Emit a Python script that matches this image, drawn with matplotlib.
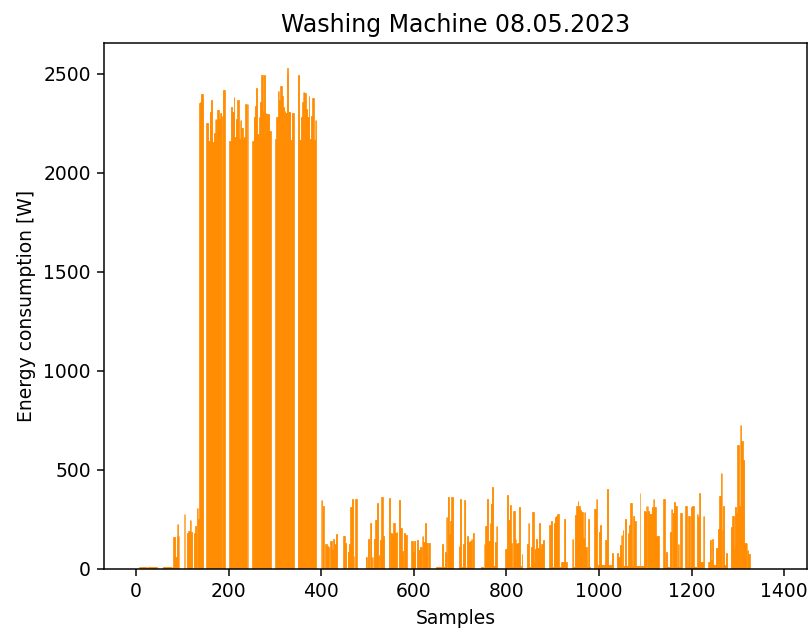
import numpy as np
import matplotlib
matplotlib.use("Agg")
import matplotlib.pyplot as plt

# Power readings [W] per sample
standby_fill = [
    0, 0, 0, 0, 0, 0, 0, 8, 8, 8,
    8, 8, 8, 8, 8, 8, 8, 8, 8, 8,
    8, 8, 8, 8, 8, 8, 8, 8, 8, 8,
    8, 8, 8, 8, 8, 8, 8, 8, 8, 8,
    8, 8, 8, 8, 8, 0, 0, 0, 0, 0,
    0, 0, 0, 0, 0, 0, 0, 0, 8, 8,
    8, 8, 8, 8, 8, 8, 8, 8, 8, 8,
    8, 8, 8, 8, 8, 8, 8, 8, 8, 8,
    8, 160, 160, 160, 160, 60, 60, 60, 226, 169,
    226, 226, 169, 0, 0, 0, 0, 0, 0, 0,
    0, 0, 0, 0, 277, 277, 0, 0, 0, 0,
    184, 184, 184, 190, 190, 190, 246, 246, 246, 187,
    187, 187, 0, 0, 0, 184, 184, 184, 217, 217,
    217, 310, 310, 310, 253, 253, 253,
]

heating_wash = [
    2355, 2355, 2360,
    2397, 2397, 2390, 2397, 2380, 0, 0, 0, 0, 0,
    0, 0, 2252, 2252, 2252, 2252, 2161, 2161, 2161, 2309,
    2309, 2309, 2367, 2367, 2367, 2155, 2155, 2155, 2203, 2203,
    2203, 2272, 2272, 2272, 2267, 2267, 2318, 2318, 2318, 2272,
    2272, 2272, 2300, 2300, 2300, 2287, 2287, 2287, 2417, 2417,
    2417, 2417, 0, 0, 0, 0, 0, 0, 0, 0,
    0, 0, 2159, 2159, 2159, 2331, 2331, 2331, 2305, 2305,
    2305, 2382, 2382, 2183, 2183, 2183, 2272, 2272, 2272, 2367,
    2367, 2367, 2169, 2169, 2169, 2267, 2267, 2267, 2225, 2225,
    2225, 2169, 2169, 2183, 2183, 2183, 2347, 2347, 2347, 2347,
    2347, 2347, 0, 0, 0, 0, 0, 0, 0, 0,
    0, 2161, 2161, 2161, 2280, 2280, 2280, 2339, 2339, 2427,
    2427, 2427, 2197, 2197, 2197, 2283, 2283, 2283, 2360, 2360,
    2360, 2492, 2492, 2492, 2313, 2313, 2492, 2492, 2492, 2300,
    2300, 2300, 2298, 2298, 2298, 2298, 2298, 2298, 2212, 2212,
    2212, 0, 0, 0, 0, 0, 0, 0, 0, 0,
    0, 2169, 2169, 2280, 2280, 2280, 2415, 2415, 2415, 2368,
    2368, 2368, 2438, 2438, 2438, 2387, 2387, 2331, 2331, 2331,
    2313, 2313, 2313, 2304, 2304, 2304, 2500, 2528, 2500, 2309,
    2309, 2309, 2305, 2305, 2164, 2164, 2164, 2304, 2304, 2304,
    2304, 0, 0, 0, 0, 0, 0, 0, 0, 0,
    2492, 2492, 2492, 2164, 2164, 2164, 2280, 2280, 2280, 2357,
    2357, 2410, 2410, 2410, 2402, 2402, 2402, 2324, 2324, 2324,
    2280, 2280, 2280, 2389, 2389, 2172, 2172, 2172, 2289, 2289,
    2289, 2380, 2380, 2380, 2164, 2164, 2164, 2267, 2267, 2267,
]

rinse = [
    0, 0, 0, 0, 0, 0, 0, 0, 0, 0,
    346, 346, 346, 319, 319, 319, 0, 0, 0, 125,
    125, 125, 117, 117, 117, 113, 113, 113, 0, 0,
    139, 139, 139, 96, 96, 96, 152, 152, 152, 125,
    125, 125, 176, 176, 176, 0, 0, 0, 0, 0,
    0, 0, 0, 0, 0, 0, 0, 0, 167, 167,
    167, 133, 133, 133, 0, 0, 0, 88, 88, 88,
    125, 125, 125, 313, 313, 313, 354, 354, 354, 66,
    66, 0, 0, 0, 354, 354, 354, 0, 0, 0,
    0, 0, 0, 0, 0, 0, 0, 0, 0, 0,
    0, 0, 0, 0, 0, 0, 60, 60, 60, 0,
    0, 152, 152, 152, 0, 0, 233, 233, 233, 63,
    63, 63, 0, 0, 152, 152, 152, 246, 246, 246,
    334, 334, 334, 71, 71, 71, 0, 147, 147, 147,
    364, 364, 364, 169, 169, 169, 0, 0, 0, 0,
    0, 0, 0, 0, 0, 0, 357, 357, 357, 0,
    181, 181, 181, 177, 177, 177, 233, 233, 233, 181,
    181, 181, 189, 189, 189, 0, 0, 0, 350, 350,
    350, 206, 206, 206, 93, 93, 93, 0, 0, 181,
    181, 181, 172, 172, 172, 0, 0, 0, 0, 0,
    0, 0, 0, 0, 0, 142, 142, 142, 88, 88,
    88, 142, 142, 142, 0, 0, 0, 147, 147, 147,
    95, 95, 95, 110, 110, 110, 110, 110, 167, 167,
    167, 138, 138, 138, 231, 231, 231, 130, 130, 130,
    0, 0, 130, 130, 130, 0, 0, 0, 0, 0,
    0, 0, 0, 0, 0, 0, 0, 0, 9, 9,
    9, 9, 9, 9, 9, 9, 9, 9, 9, 9,
    9, 125, 125, 125, 10, 10, 10, 88, 88, 88,
    262, 262, 262, 366, 366, 366, 177, 177, 177, 240,
    240, 366, 366, 366, 366, 0, 0, 0, 0, 0,
    0, 0, 0, 0, 0, 0, 0, 116, 116, 116,
    354, 354, 354, 10, 10, 10, 125, 125, 125, 346,
    346, 346, 10, 10, 0, 167, 167, 167, 138, 138,
    138, 143, 143, 143, 150, 150, 150, 180, 180, 180,
    0, 0, 0, 0, 0, 0, 0, 0, 0, 0,
    0, 0, 0, 0, 0, 10, 10, 10, 10, 10,
    0, 0, 125, 125, 125, 218, 218, 218, 354, 354,
    354, 143, 143, 143, 231, 231, 329, 329, 329, 413,
    413, 413, 15, 15, 15, 138, 138, 138, 218, 218,
    218, 0, 0, 0, 0, 0, 0, 0, 0, 0,
    0, 0, 0, 0, 0, 0, 0, 0, 101, 101,
    101, 374, 374, 374, 248, 248, 248, 324, 324, 324,
    130, 130, 10, 10, 10, 295, 295, 295, 150, 150,
    150, 126, 126, 126, 130, 130, 130, 312, 312, 312,
    15, 15, 15, 74, 74, 0, 0, 0, 0, 0,
    0, 0, 0, 0, 125, 125, 125, 231, 231, 231,
    10, 10, 10, 113, 113, 113, 290, 290, 290, 37,
    37, 101, 101, 101, 150, 150, 150, 105, 105, 105,
    231, 231, 231, 101, 101, 101, 126, 126, 126, 146,
    146, 146, 0, 0, 0, 0, 0, 0, 0, 0,
    0, 0, 0, 223, 223, 223, 240, 240, 240, 10,
    10, 10, 231, 231, 231, 265, 265, 265, 269, 269,
    277, 277, 277, 10, 10, 10, 10, 10, 10, 37,
    37, 37, 37, 37, 37, 253, 253, 253, 37, 37,
    37, 0, 0, 0, 0, 0, 0, 0, 0, 0,
    0, 0, 152, 152, 152, 10, 10, 10, 273, 273,
    273, 319, 319, 319, 341, 341, 317, 317, 317, 299,
    299, 299, 290, 290, 290, 154, 154, 154, 290, 290,
    290, 113, 113, 113, 10, 10, 10, 251, 251, 10,
    10, 10, 0, 0, 0, 0, 0, 0, 0, 0,
    302, 302, 302, 302, 353, 353, 353, 20, 20, 20,
    189, 189, 223, 223, 223, 20, 20, 20, 20, 20,
    20, 20, 20, 20, 146, 146, 146, 405, 405, 405,
    18, 18, 18, 18, 18, 18, 18, 18, 83, 83,
]

spin_end = [
    83, 0, 0, 0, 0, 0, 0, 0, 0, 80,
    80, 80, 61, 61, 61, 121, 121, 121, 172, 172,
    172, 197, 197, 17, 17, 17, 251, 251, 251, 17,
    17, 17, 180, 180, 180, 223, 223, 223, 332, 332,
    332, 15, 15, 15, 269, 269, 269, 243, 243, 243,
    15, 15, 15, 15, 15, 15, 15, 15, 383, 15,
    15, 15, 15, 15, 15, 15, 15, 295, 295, 295,
    290, 290, 319, 319, 319, 319, 295, 295, 295, 277,
    277, 277, 277, 277, 312, 312, 312, 353, 353, 353,
    312, 312, 312, 168, 168, 168, 168, 168, 168, 0,
    0, 0, 0, 0, 0, 0, 0, 0, 0, 354,
    354, 354, 10, 10, 10, 88, 88, 88, 10, 10,
    10, 10, 10, 189, 189, 189, 302, 302, 302, 282,
    282, 282, 337, 337, 337, 317, 317, 317, 10, 10,
    126, 126, 126, 10, 10, 10, 282, 282, 282, 0,
    0, 0, 0, 0, 0, 0, 0, 319, 319, 319,
    10, 10, 10, 268, 268, 268, 10, 10, 10, 314,
    314, 314, 317, 317, 317, 10, 10, 10, 10, 10,
    10, 277, 277, 277, 265, 265, 265, 383, 383, 37,
    37, 37, 37, 37, 37, 268, 268, 268, 0, 0,
    0, 0, 0, 0, 0, 0, 37, 37, 37, 146,
    146, 146, 45, 45, 45, 150, 150, 18, 18, 18,
    18, 18, 18, 105, 105, 105, 105, 201, 201, 201,
    370, 370, 370, 484, 484, 484, 197, 197, 319, 319,
    319, 18, 18, 18, 83, 83, 83, 0, 0, 0,
    0, 0, 0, 0, 0, 211, 211, 211, 268, 268,
    268, 113, 113, 113, 314, 314, 314, 282, 282, 627,
    627, 627, 317, 317, 317, 729, 729, 729, 644, 644,
    644, 552, 552, 552, 133, 133, 133, 133, 133, 133,
    96, 96, 96, 76, 76, 76, 0, 0, 0, 0,
    0, 0, 0, 0, 0, 0, 0, 0, 0, 0,
    0, 0, 0, 0, 0, 0, 0, 0, 0, 0,
    0, 0, 0, 0, 0, 0, 0, 0, 0, 0,
    0, 0, 0, 0, 0, 0, 0, 0, 0, 0,
    0, 0, 0, 0, 0, 0, 0, 0, 0, 0,
]

title = "Washing Machine 08.05.2023"
x_label = "Samples"
y_label = "Energy consumption [W]"

power = np.array(standby_fill + heating_wash + rinse + spin_end, dtype=float)
samples = np.arange(len(power))

DPI = 135
fig, ax = plt.subplots(figsize=(810 / DPI, 629 / DPI), dpi=DPI)
ax.bar(samples, power, color="darkorange", edgecolor="darkorange",
       linewidth=0.35)
ax.set_title(title, fontsize=12.6)
ax.set_xlabel(x_label)
ax.set_ylabel(y_label)
fig.subplots_adjust(left=0.1284, right=0.9959, bottom=0.0954, top=0.9312)
fig.savefig("out.png", dpi=DPI)
